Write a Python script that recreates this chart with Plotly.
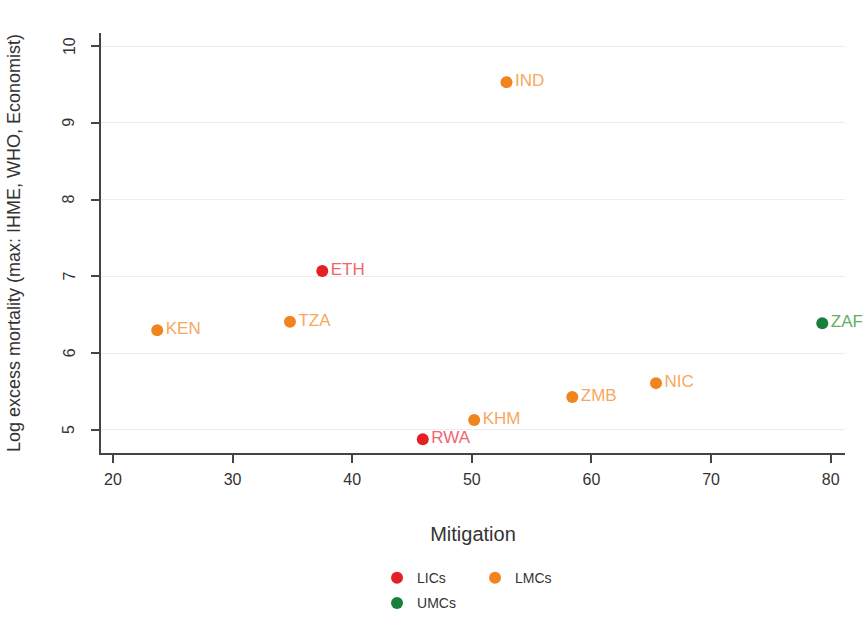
import plotly.graph_objects as go

# Country codes, mitigation score and log excess mortality by income group
lic_codes = ["ETH", "RWA"]
lic_mitigation = [37.5, 45.9]
lic_mortality = [7.07, 4.88]

lmc_codes = ["IND", "KEN", "TZA", "NIC", "ZMB", "KHM"]
lmc_mitigation = [52.9, 23.7, 34.8, 65.4, 58.4, 50.2]
lmc_mortality = [9.53, 6.30, 6.41, 5.61, 5.43, 5.13]

umc_codes = ["ZAF"]
umc_mitigation = [79.3]
umc_mortality = [6.39]

x_ticks = [20, 30, 40, 50, 60, 70, 80]
y_ticks = [5, 6, 7, 8, 9, 10]

FONT = "Liberation Sans Narrow, Arial Narrow, Liberation Sans, Arial, sans-serif"

groups = [
    ("LICs", lic_codes, lic_mitigation, lic_mortality, "#e41f26", "#f06570", "legend"),
    ("LMCs", lmc_codes, lmc_mitigation, lmc_mortality, "#f28420", "#f7a85e", "legend"),
    ("UMCs", umc_codes, umc_mitigation, umc_mortality, "#17803a", "#5fb060", "legend2"),
]

fig = go.Figure()
for name, codes, xs, ys, mcol, tcol, leg in groups:
    fig.add_trace(go.Scatter(
        x=xs, y=ys, text=codes, name=name,
        mode="markers+text", textposition="middle right",
        marker=dict(color=mcol, size=12),
        textfont=dict(color=tcol, size=17, family=FONT),
        cliponaxis=False, legend=leg,
    ))

axis_common = dict(
    showline=True, linecolor="#444444", linewidth=1.5,
    ticks="outside", ticklen=8, tickcolor="#444444", tickwidth=1.5,
    tickfont=dict(size=16, color="#333333", family=FONT),
    zeroline=False,
)

# Rotated y tick labels, set further out from the axis
for v in y_ticks:
    fig.add_annotation(
        x=0, xref="paper", y=v, yref="y", text=str(v), textangle=-90,
        xanchor="center", yanchor="middle", xshift=-32, showarrow=False,
        font=dict(size=16, color="#333333", family=FONT),
    )

fig.update_layout(
    width=867, height=617,
    margin=dict(l=101, r=22, t=33, b=164, autoexpand=False),
    paper_bgcolor="white", plot_bgcolor="white",
    font=dict(family=FONT, color="#333333"),
    xaxis=dict(
        range=[19.0, 81.2], tickvals=x_ticks, showgrid=False,
        ticklabelstandoff=3,
        title=dict(text="Mitigation", font=dict(size=20, family=FONT), standoff=40),
        **axis_common,
    ),
    yaxis=dict(
        range=[4.7, 10.17], tickvals=y_ticks, showticklabels=False,
        showgrid=True, gridcolor="#ececec", gridwidth=1,
        title=dict(text="Log excess mortality (max: IHME, WHO, Economist)",
                   font=dict(size=18, family=FONT), standoff=66),
        **axis_common,
    ),
    legend=dict(
        orientation="h", x=0.371, y=-0.298, xanchor="left", yanchor="middle",
        entrywidth=53, font=dict(size=14, family=FONT), itemsizing="constant",
        bgcolor="rgba(0,0,0,0)",
    ),
    legend2=dict(
        orientation="h", x=0.371, y=-0.358, xanchor="left", yanchor="middle",
        font=dict(size=14, family=FONT), itemsizing="constant",
        bgcolor="rgba(0,0,0,0)",
    ),
)

fig.write_html("out.html")
